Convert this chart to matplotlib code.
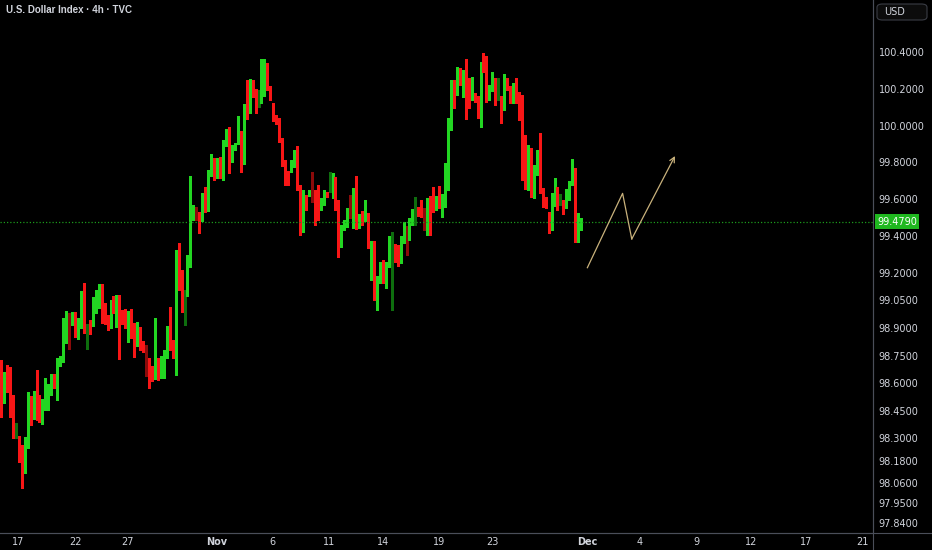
import matplotlib
matplotlib.use("Agg")
import matplotlib.pyplot as plt
from matplotlib.patches import FancyBboxPatch

# 4h candles (oldest first)
opens = [98.667, 98.504, 98.629, 98.602, 98.433, 98.308, 98.254, 98.221, 98.134, 98.286,
         98.498, 98.433, 98.667, 98.471, 98.411, 98.482, 98.552, 98.552, 98.634, 98.591,
         98.721, 98.737, 98.873, 98.944, 98.933, 98.982, 98.873, 98.928, 99.091, 98.890,
         98.906, 98.917, 99.064, 99.064, 99.123, 98.971, 98.944, 98.944, 99.042, 99.009,
         99.036, 98.982, 98.955, 98.846, 98.971, 98.917, 98.819, 98.873, 98.824, 98.797,
         98.716, 98.672, 98.634, 98.683, 98.661, 98.737, 98.754, 98.890, 98.819, 98.754,
         99.227, 99.199, 99.009, 99.091, 99.265, 99.509, 99.531, 99.509, 99.504, 99.601,
         99.553, 99.743, 99.808, 99.748, 99.813, 99.721, 99.906, 99.944, 99.824, 99.879,
         99.911, 99.960, 99.803, 100.194, 100.085, 100.232, 100.188, 100.123, 100.156, 100.178,
         100.270, 100.205, 100.107, 100.042, 100.031, 99.922, 99.797, 99.743, 99.759, 99.786,
         99.873, 99.667, 99.542, 99.612, 99.629, 99.705, 99.623, 99.596, 99.553, 99.585,
         99.634, 99.650, 99.650, 99.667, 99.569, 99.368, 99.444, 99.460, 99.542, 99.460,
         99.716, 99.460, 99.504, 99.493, 99.504, 99.346, 99.362, 99.091, 99.156, 99.259,
         99.178, 99.243, 99.324, 99.341, 99.308, 99.265, 99.379, 99.438, 99.395, 99.476,
         99.476, 99.547, 99.563, 99.542, 99.525, 99.607, 99.596, 99.553, 99.623, 99.580,
         99.607, 99.661, 99.987, 100.232, 100.178, 100.297, 100.237, 100.286, 100.199, 100.156,
         100.161, 100.150, 100.085, 100.330, 100.303, 100.178, 100.199, 100.248, 100.156, 100.150,
         100.102, 100.227, 100.205, 100.199, 100.221, 100.178, 100.156, 99.868, 99.667, 99.841,
         99.623, 99.748, 99.803, 99.650, 99.601, 99.509, 99.498, 99.574, 99.634, 99.596,
         99.569, 99.569, 99.607, 99.689, 99.737, 99.379, 99.444]
highs = [98.726, 98.661, 98.699, 98.688, 98.536, 98.384, 98.314, 98.265, 98.308, 98.552,
         98.531, 98.558, 98.672, 98.536, 98.514, 98.629, 98.596, 98.650, 98.650, 98.737,
         98.748, 98.955, 98.993, 98.982, 98.987, 98.987, 98.955, 99.102, 99.145, 98.922,
         98.944, 99.069, 99.107, 99.140, 99.140, 99.036, 98.971, 99.053, 99.075, 99.080,
         99.080, 98.998, 99.004, 98.993, 99.004, 98.925, 98.933, 98.906, 98.830, 98.808,
         98.737, 98.694, 98.955, 98.737, 98.748, 98.781, 98.911, 99.015, 98.835, 99.324,
         99.362, 99.216, 99.107, 99.297, 99.726, 99.569, 99.558, 99.531, 99.634, 99.667,
         99.759, 99.846, 99.824, 99.824, 99.830, 99.922, 99.982, 99.993, 99.895, 99.906,
         100.053, 99.971, 100.118, 100.248, 100.254, 100.248, 100.199, 100.194, 100.362, 100.362,
         100.341, 100.216, 100.123, 100.058, 100.042, 99.933, 99.813, 99.754, 99.813, 99.868,
         99.890, 99.678, 99.650, 99.623, 99.650, 99.748, 99.650, 99.678, 99.607, 99.650,
         99.640, 99.748, 99.743, 99.721, 99.596, 99.460, 99.487, 99.553, 99.623, 99.661,
         99.727, 99.520, 99.536, 99.596, 99.525, 99.373, 99.373, 99.183, 99.259, 99.270,
         99.259, 99.400, 99.422, 99.357, 99.351, 99.400, 99.476, 99.455, 99.498, 99.547,
         99.612, 99.558, 99.596, 99.553, 99.607, 99.618, 99.667, 99.618, 99.672, 99.629,
         99.797, 100.042, 100.248, 100.248, 100.319, 100.313, 100.303, 100.362, 100.259, 100.265,
         100.178, 100.161, 100.346, 100.395, 100.379, 100.221, 100.292, 100.259, 100.259, 100.161,
         100.281, 100.259, 100.216, 100.232, 100.259, 100.183, 100.167, 99.949, 99.895, 99.879,
         99.786, 99.868, 99.960, 99.661, 99.612, 99.531, 99.634, 99.716, 99.667, 99.629,
         99.596, 99.656, 99.699, 99.819, 99.770, 99.525, 99.498]
lows = [98.417, 98.493, 98.552, 98.417, 98.303, 98.303, 98.172, 98.031, 98.112, 98.248,
        98.373, 98.405, 98.400, 98.389, 98.378, 98.455, 98.455, 98.536, 98.574, 98.509,
        98.694, 98.716, 98.819, 98.786, 98.917, 98.851, 98.840, 98.900, 98.873, 98.786,
        98.868, 98.911, 98.982, 99.009, 98.928, 98.922, 98.890, 98.900, 98.982, 98.906,
        98.732, 98.922, 98.900, 98.824, 98.846, 98.743, 98.803, 98.781, 98.770, 98.640,
        98.574, 98.612, 98.623, 98.618, 98.629, 98.629, 98.737, 98.781, 98.737, 98.645,
        99.107, 98.987, 98.917, 99.075, 99.232, 99.487, 99.487, 99.417, 99.482, 99.531,
        99.536, 99.727, 99.705, 99.716, 99.716, 99.705, 99.890, 99.743, 99.803, 99.868,
        99.900, 99.748, 99.792, 100.036, 100.069, 100.156, 100.069, 100.102, 100.123, 100.161,
        100.194, 100.140, 100.025, 100.009, 99.911, 99.781, 99.678, 99.678, 99.748, 99.775,
        99.650, 99.406, 99.422, 99.542, 99.618, 99.585, 99.460, 99.487, 99.542, 99.569,
        99.612, 99.640, 99.607, 99.542, 99.286, 99.341, 99.433, 99.449, 99.498, 99.444,
        99.438, 99.444, 99.460, 99.482, 99.335, 99.161, 99.053, 98.998, 99.145, 99.145,
        99.118, 99.232, 98.998, 99.259, 99.237, 99.254, 99.362, 99.297, 99.379, 99.460,
        99.460, 99.509, 99.504, 99.433, 99.406, 99.406, 99.531, 99.542, 99.553, 99.504,
        99.558, 99.650, 99.976, 100.096, 100.167, 100.221, 100.156, 100.036, 100.096, 100.140,
        100.129, 100.042, 99.993, 100.292, 100.129, 100.140, 100.188, 100.112, 100.140, 100.014,
        100.085, 100.194, 100.123, 100.123, 100.123, 100.031, 99.705, 99.656, 99.650, 99.612,
        99.607, 99.732, 99.634, 99.558, 99.553, 99.417, 99.433, 99.563, 99.542, 99.569,
        99.520, 99.553, 99.596, 99.678, 99.368, 99.368, 99.433]
closes = [98.509, 98.629, 98.602, 98.433, 98.335, 98.373, 98.215, 98.134, 98.286, 98.498,
          98.433, 98.536, 98.471, 98.411, 98.482, 98.547, 98.563, 98.634, 98.591, 98.721,
          98.737, 98.879, 98.944, 98.933, 98.966, 98.873, 98.928, 99.091, 98.890, 98.906,
          98.879, 99.064, 99.075, 99.123, 98.971, 98.933, 98.917, 99.042, 98.998, 99.036,
          98.966, 98.944, 98.933, 98.987, 98.917, 98.819, 98.873, 98.824, 98.797, 98.726,
          98.672, 98.629, 98.683, 98.634, 98.737, 98.765, 98.890, 98.808, 98.754, 99.227,
          99.118, 99.009, 99.091, 99.265, 99.515, 99.531, 99.509, 99.487, 99.601, 99.553,
          99.743, 99.808, 99.721, 99.808, 99.743, 99.906, 99.944, 99.819, 99.879, 99.890,
          99.982, 99.803, 100.102, 100.080, 100.232, 100.188, 100.156, 100.178, 100.265, 100.275,
          100.205, 100.156, 100.042, 100.025, 99.922, 99.797, 99.732, 99.694, 99.786, 99.835,
          99.661, 99.542, 99.607, 99.558, 99.640, 99.607, 99.569, 99.569, 99.585, 99.634,
          99.623, 99.743, 99.667, 99.553, 99.368, 99.449, 99.471, 99.536, 99.515, 99.558,
          99.449, 99.498, 99.471, 99.520, 99.346, 99.362, 99.069, 99.161, 99.232, 99.178,
          99.243, 99.335, 99.379, 99.297, 99.270, 99.384, 99.438, 99.400, 99.487, 99.536,
          99.601, 99.525, 99.531, 99.525, 99.596, 99.585, 99.553, 99.601, 99.563, 99.612,
          99.667, 99.993, 100.237, 100.112, 100.297, 100.237, 100.292, 100.199, 100.156, 100.210,
          100.140, 100.085, 100.335, 100.303, 100.140, 100.199, 100.248, 100.150, 100.205, 100.096,
          100.221, 100.205, 100.178, 100.216, 100.178, 100.156, 99.868, 99.667, 99.797, 99.623,
          99.748, 99.803, 99.650, 99.607, 99.563, 99.487, 99.574, 99.634, 99.569, 99.612,
          99.531, 99.607, 99.689, 99.716, 99.379, 99.444, 99.479]
faded = [5, 23, 29, 49, 62, 66, 87, 105, 111, 118, 132, 137, 140, 143, 168, 189]

last_price = 99.479
price_ticks = [100.4, 100.2, 100.0, 99.8, 99.6, 99.4, 99.2, 99.05, 98.9, 98.75,
               98.6, 98.45, 98.3, 98.18, 98.06, 97.95, 97.84]
date_labels = ["17", "22", "27", "Nov", "6", "11", "14", "19", "23",
               "Dec", "4", "9", "12", "17", "21"]
date_bars = [5.7, 25.0, 42.9, 73.0, 91.6, 110.8, 129.1, 148.0, 165.9,
             198.0, 215.9, 234.8, 253.4, 272.0, 290.9]

# projected path drawn by the author
proj_bars = [198.1, 210.0, 213.1, 227.7]
proj_price = [99.228, 99.632, 99.384, 99.835]

BG = "#000000"
UP, DOWN = "#22d622", "#f81616"
UP_DIM, DOWN_DIM = "#0e6e0e", "#8c0a0a"
TXT = "#d1d4dc"
GRID = "#4a4e59"

fig = plt.figure(figsize=(9.32, 5.5), dpi=100, facecolor=BG)
ax = fig.add_axes([0, 17 / 550, 873 / 932, 533 / 550])
ax.set_facecolor(BG)

x = list(range(len(closes)))
cols = []
for i in x:
    up = closes[i] >= opens[i]
    if i in faded:
        cols.append(UP_DIM if up else DOWN_DIM)
    else:
        cols.append(UP if up else DOWN)

ax.vlines(x, lows, highs, colors=cols, linewidth=0.75, antialiased=False)
bottoms = [min(o, c) for o, c in zip(opens, closes)]
heights = [max(abs(c - o), 0.005) for o, c in zip(opens, closes)]
ax.bar(x, heights, bottom=bottoms, width=0.55, color=cols, linewidth=0,
       antialiased=False)

ax.axhline(last_price, color="#1c9a1c", linestyle=(0, (1, 1.6)), linewidth=0.9)

ax.annotate("", xy=(proj_bars[-1], proj_price[-1]), xytext=(proj_bars[-2], proj_price[-2]),
            arrowprops=dict(arrowstyle="->", color="#c9b27c", lw=0.9,
                            shrinkA=0, shrinkB=0, mutation_scale=9))
ax.plot(proj_bars[:-1], proj_price[:-1], color="#c9b27c", linewidth=0.9)

ax.set_xlim(-0.34, 294.6)
ax.set_ylim(97.786, 100.683)

for s in ["top", "left"]:
    ax.spines[s].set_visible(False)
ax.spines["right"].set_color(GRID)
ax.spines["bottom"].set_color(GRID)
ax.spines["right"].set_linewidth(0.8)
ax.spines["bottom"].set_linewidth(0.8)

ax.yaxis.tick_right()
ax.set_yticks(price_ticks)
ax.set_yticklabels([f"{p:.4f}" for p in price_ticks])
ax.tick_params(axis="y", length=0, pad=4, labelsize=7, labelcolor=TXT)
ax.set_xticks(date_bars)
ax.set_xticklabels(date_labels)
ax.tick_params(axis="x", length=0, pad=3, labelsize=7, labelcolor=TXT)
for lab in ax.get_xticklabels():
    if lab.get_text() in ("Nov", "Dec"):
        lab.set_fontweight("bold")

# last-price tag on the price scale
ax.annotate(f"{last_price:.4f}", xy=(1.0, last_price), xycoords=("axes fraction", "data"),
            xytext=(3, 0), textcoords="offset points", va="center", ha="left",
            fontsize=7, color="white",
            bbox=dict(boxstyle="square,pad=0.25", fc="#1fb81f", ec="none"))

# extend the separators across the whole figure
fig.add_artist(plt.Line2D([0, 1], [17 / 550, 17 / 550], color=GRID, lw=0.8))
fig.add_artist(plt.Line2D([873 / 932, 873 / 932], [0, 1], color=GRID, lw=0.8))

box = FancyBboxPatch((877 / 932, 530 / 550), 50 / 932, 16 / 550,
                     boxstyle="round,pad=0,rounding_size=0.006",
                     transform=fig.transFigure, fc="#0c0c0c", ec="#3a3d45", lw=0.8)
fig.add_artist(box)
fig.text(884 / 932, 538 / 550, "USD", color=TXT, fontsize=7, va="center", ha="left")

fig.text(6 / 932, 540 / 550, "U.S. Dollar Index · 4h · TVC", color=TXT, fontsize=7,
         fontweight="bold", family="Liberation Sans", va="center", ha="left")

fig.savefig("out.png", dpi=100, facecolor=BG)
